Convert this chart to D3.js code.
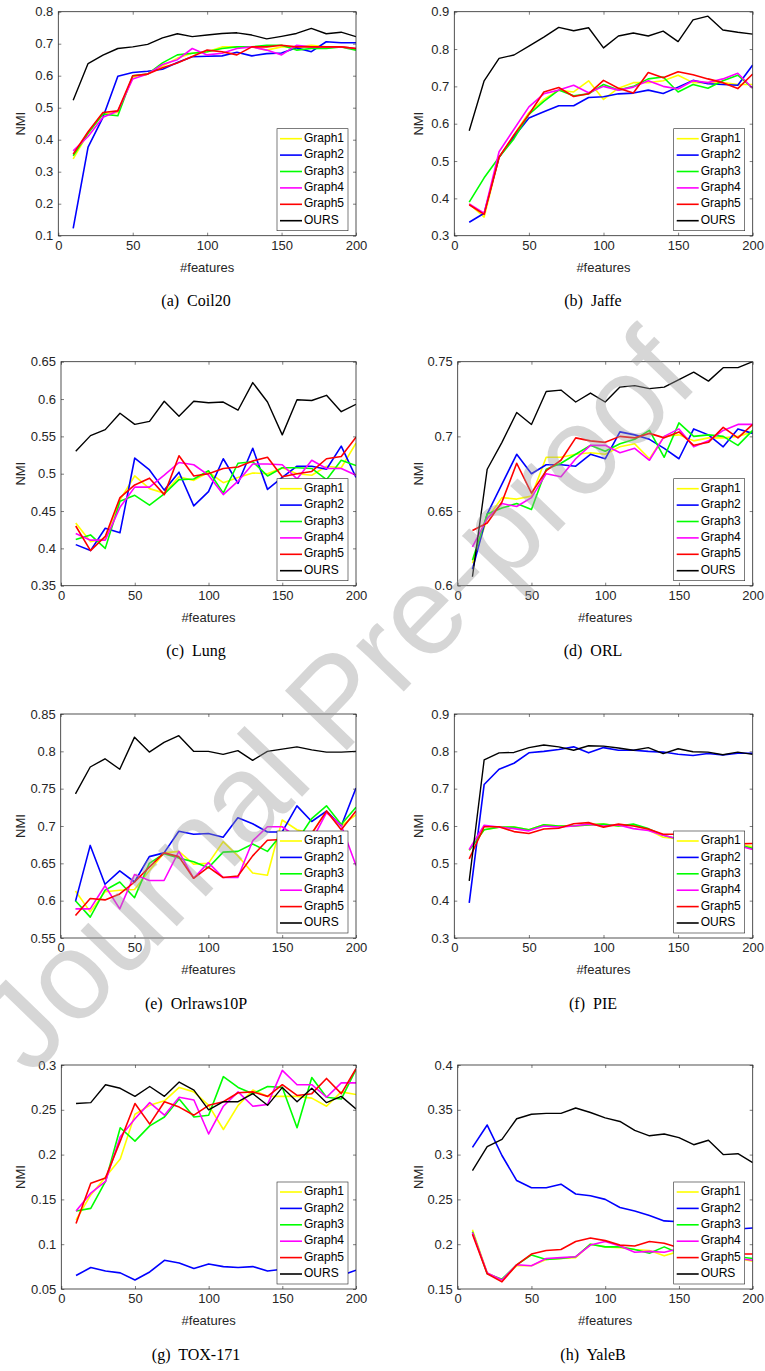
<!DOCTYPE html>
<html>
<head>
<meta charset="utf-8">
<script src="https://cdn.jsdelivr.net/npm/d3@7/dist/d3.min.js"></script>
<style>
    body { margin: 0; background: #fff; }
    svg text { font-family: Arial, "Liberation Sans", Helvetica, sans-serif; }
    .caption { font-family: "Times New Roman", "Liberation Serif", serif !important; }
</style>
</head>
<body>
<svg id="fig" width="765" height="1371"></svg>
<script>
// x positions (#features) shared by every panel
const features = [10, 20, 30, 40, 50, 60, 70, 80, 90, 100, 110, 120, 130, 140, 150, 160, 170, 180, 190, 200];
const seriesNames = ['Graph1', 'Graph2', 'Graph3', 'Graph4', 'Graph5', 'OURS'];
const seriesColors = ['#ffff00', '#0000ff', '#00ff00', '#ff00ff', '#ff0000', '#000000'];
const xTicks = [0, 50, 100, 150, 200];

// NMI values, one row per series (Graph1..Graph5, OURS)
const coil20 = [
    [0.34, 0.42, 0.48, 0.485, 0.595, 0.605, 0.63, 0.655, 0.67, 0.675, 0.69, 0.69, 0.69, 0.68, 0.69, 0.69, 0.695, 0.69, 0.69, 0.685],
    [0.123, 0.377, 0.47, 0.598, 0.61, 0.614, 0.62, 0.641, 0.659, 0.661, 0.662, 0.673, 0.662, 0.669, 0.671, 0.687, 0.675, 0.706, 0.703, 0.703],
    [0.35, 0.42, 0.48, 0.475, 0.6, 0.605, 0.64, 0.665, 0.67, 0.675, 0.685, 0.69, 0.69, 0.695, 0.695, 0.68, 0.685, 0.685, 0.69, 0.68],
    [0.365, 0.41, 0.47, 0.49, 0.59, 0.605, 0.635, 0.65, 0.685, 0.665, 0.67, 0.685, 0.69, 0.68, 0.665, 0.695, 0.69, 0.69, 0.69, 0.685],
    [0.355, 0.425, 0.485, 0.49, 0.6, 0.605, 0.625, 0.64, 0.66, 0.68, 0.675, 0.665, 0.69, 0.69, 0.695, 0.69, 0.69, 0.69, 0.69, 0.685],
    [0.523, 0.638, 0.664, 0.685, 0.69, 0.698, 0.718, 0.731, 0.722, 0.727, 0.732, 0.734, 0.727, 0.715, 0.723, 0.732, 0.748, 0.731, 0.736, 0.722]
];
const jaffe = [
    [0.385, 0.35, 0.51, 0.57, 0.63, 0.665, 0.69, 0.685, 0.715, 0.665, 0.695, 0.71, 0.71, 0.715, 0.73, 0.71, 0.71, 0.71, 0.705, 0.705],
    [0.336, 0.36, 0.51, 0.565, 0.615, 0.632, 0.648, 0.648, 0.67, 0.672, 0.68, 0.682, 0.69, 0.681, 0.698, 0.716, 0.707, 0.705, 0.703, 0.757],
    [0.39, 0.455, 0.51, 0.56, 0.625, 0.66, 0.69, 0.675, 0.68, 0.705, 0.69, 0.7, 0.72, 0.725, 0.685, 0.705, 0.695, 0.715, 0.73, 0.695],
    [0.385, 0.36, 0.525, 0.585, 0.645, 0.68, 0.69, 0.703, 0.683, 0.7, 0.69, 0.698, 0.715, 0.7, 0.693, 0.715, 0.71, 0.72, 0.735, 0.695],
    [0.383, 0.357, 0.51, 0.57, 0.625, 0.685, 0.697, 0.673, 0.68, 0.716, 0.695, 0.682, 0.737, 0.723, 0.739, 0.731, 0.72, 0.71, 0.694, 0.733],
    [0.581, 0.715, 0.775, 0.784, 0.808, 0.832, 0.858, 0.849, 0.857, 0.803, 0.835, 0.843, 0.835, 0.848, 0.82, 0.878, 0.888, 0.851, 0.845, 0.84]
];
const lung = [
    [0.434, 0.409, 0.413, 0.465, 0.497, 0.48, 0.474, 0.496, 0.491, 0.502, 0.488, 0.495, 0.501, 0.5, 0.508, 0.5, 0.498, 0.51, 0.508, 0.541],
    [0.405, 0.397, 0.427, 0.421, 0.521, 0.505, 0.478, 0.502, 0.457, 0.476, 0.52, 0.487, 0.534, 0.479, 0.495, 0.51, 0.51, 0.506, 0.537, 0.495],
    [0.412, 0.418, 0.4, 0.463, 0.471, 0.458, 0.473, 0.492, 0.493, 0.504, 0.474, 0.514, 0.516, 0.497, 0.508, 0.508, 0.507, 0.492, 0.518, 0.511],
    [0.42, 0.411, 0.411, 0.455, 0.482, 0.482, 0.498, 0.515, 0.512, 0.498, 0.472, 0.49, 0.513, 0.513, 0.512, 0.493, 0.518, 0.507, 0.507, 0.498],
    [0.43, 0.397, 0.416, 0.468, 0.485, 0.494, 0.472, 0.524, 0.497, 0.5, 0.507, 0.509, 0.517, 0.522, 0.496, 0.5, 0.503, 0.52, 0.523, 0.549],
    [0.53, 0.551, 0.559, 0.581, 0.566, 0.57, 0.597, 0.577, 0.597, 0.595, 0.596, 0.585, 0.622, 0.596, 0.552, 0.599, 0.598, 0.605, 0.583, 0.593]
];
const orl = [
    [0.615, 0.645, 0.659, 0.658, 0.66, 0.686, 0.686, 0.688, 0.689, 0.688, 0.693, 0.695, 0.685, 0.7, 0.701, 0.697, 0.699, 0.699, 0.7, 0.703],
    [0.611, 0.648, 0.668, 0.688, 0.675, 0.681, 0.681, 0.68, 0.688, 0.685, 0.703, 0.701, 0.698, 0.692, 0.685, 0.705, 0.701, 0.693, 0.705, 0.702],
    [0.617, 0.648, 0.652, 0.655, 0.651, 0.678, 0.682, 0.688, 0.694, 0.69, 0.695, 0.698, 0.704, 0.686, 0.709, 0.7, 0.701, 0.7, 0.694, 0.704],
    [0.626, 0.645, 0.655, 0.653, 0.659, 0.675, 0.673, 0.685, 0.694, 0.694, 0.689, 0.692, 0.684, 0.7, 0.705, 0.693, 0.697, 0.704, 0.708, 0.708],
    [0.637, 0.642, 0.656, 0.682, 0.662, 0.677, 0.684, 0.699, 0.697, 0.696, 0.7, 0.699, 0.702, 0.699, 0.703, 0.694, 0.696, 0.706, 0.699, 0.708],
    [0.606, 0.678, 0.696, 0.716, 0.708, 0.73, 0.731, 0.723, 0.729, 0.723, 0.733, 0.734, 0.732, 0.733, 0.738, 0.743, 0.737, 0.746, 0.746, 0.75]
];
const orlraws10P = [
    [0.613, 0.585, 0.612, 0.614, 0.615, 0.64, 0.664, 0.666, 0.649, 0.65, 0.679, 0.66, 0.637, 0.634, 0.708, 0.695, 0.69, 0.72, 0.7, 0.715],
    [0.599, 0.674, 0.622, 0.64, 0.625, 0.659, 0.664, 0.693, 0.689, 0.69, 0.685, 0.711, 0.703, 0.692, 0.692, 0.727, 0.706, 0.72, 0.7, 0.751],
    [0.6, 0.578, 0.614, 0.625, 0.604, 0.65, 0.663, 0.657, 0.652, 0.644, 0.665, 0.666, 0.676, 0.666, 0.69, 0.68, 0.71, 0.727, 0.702, 0.725],
    [0.589, 0.589, 0.62, 0.589, 0.635, 0.627, 0.627, 0.666, 0.63, 0.651, 0.631, 0.631, 0.68, 0.699, 0.699, 0.685, 0.68, 0.718, 0.701, 0.647],
    [0.58, 0.603, 0.601, 0.609, 0.625, 0.645, 0.664, 0.659, 0.63, 0.645, 0.631, 0.633, 0.66, 0.681, 0.682, 0.682, 0.69, 0.72, 0.695, 0.72],
    [0.743, 0.779, 0.79, 0.776, 0.819, 0.799, 0.812, 0.821, 0.8, 0.8, 0.796, 0.801, 0.788, 0.8, 0.803, 0.806, 0.802, 0.799, 0.799, 0.8]
];
const pie = [
    [0.535, 0.59, 0.597, 0.597, 0.59, 0.603, 0.6, 0.6, 0.603, 0.605, 0.6, 0.603, 0.59, 0.57, 0.565, 0.565, 0.565, 0.555, 0.55, 0.545],
    [0.394, 0.711, 0.752, 0.768, 0.796, 0.8, 0.805, 0.812, 0.796, 0.81, 0.803, 0.803, 0.8, 0.798, 0.792, 0.789, 0.794, 0.79, 0.795, 0.795],
    [0.535, 0.59, 0.597, 0.597, 0.59, 0.603, 0.6, 0.6, 0.603, 0.605, 0.6, 0.605, 0.593, 0.575, 0.565, 0.56, 0.56, 0.555, 0.55, 0.54],
    [0.537, 0.602, 0.597, 0.593, 0.587, 0.6, 0.597, 0.6, 0.605, 0.6, 0.603, 0.593, 0.588, 0.575, 0.565, 0.56, 0.56, 0.552, 0.548, 0.537],
    [0.512, 0.598, 0.598, 0.585, 0.58, 0.592, 0.594, 0.606, 0.609, 0.597, 0.605, 0.6, 0.592, 0.578, 0.578, 0.57, 0.565, 0.553, 0.552, 0.553],
    [0.453, 0.777, 0.796, 0.797, 0.81, 0.817, 0.812, 0.803, 0.815, 0.814, 0.809, 0.803, 0.81, 0.794, 0.807, 0.799, 0.798, 0.791, 0.798, 0.792]
];
const tox171 = [
    [0.127, 0.155, 0.175, 0.195, 0.245, 0.255, 0.26, 0.275, 0.27, 0.255, 0.228, 0.255, 0.272, 0.265, 0.265, 0.265, 0.263, 0.254, 0.27, 0.267],
    [0.065, 0.074, 0.07, 0.068, 0.06, 0.069, 0.082, 0.079, 0.073, 0.078, 0.075, 0.074, 0.075, 0.07, 0.072, 0.073, 0.07, 0.068, 0.065, 0.071],
    [0.137, 0.14, 0.17, 0.23, 0.215, 0.232, 0.242, 0.262, 0.242, 0.244, 0.287, 0.275, 0.268, 0.276, 0.275, 0.23, 0.286, 0.264, 0.262, 0.295],
    [0.137, 0.157, 0.17, 0.22, 0.24, 0.258, 0.244, 0.264, 0.261, 0.223, 0.254, 0.27, 0.254, 0.256, 0.294, 0.278, 0.278, 0.264, 0.28, 0.28],
    [0.123, 0.168, 0.174, 0.215, 0.257, 0.234, 0.259, 0.253, 0.244, 0.255, 0.259, 0.269, 0.27, 0.265, 0.278, 0.266, 0.268, 0.285, 0.268, 0.296],
    [0.257, 0.258, 0.278, 0.274, 0.265, 0.276, 0.265, 0.281, 0.272, 0.25, 0.259, 0.259, 0.268, 0.255, 0.275, 0.259, 0.274, 0.258, 0.265, 0.251]
];
const yaleB = [
    [0.216, 0.168, 0.16, 0.176, 0.176, 0.183, 0.184, 0.185, 0.2, 0.197, 0.196, 0.194, 0.193, 0.187, 0.192, 0.19, 0.188, 0.185, 0.184, 0.181],
    [0.308, 0.333, 0.299, 0.271, 0.263, 0.263, 0.267, 0.256, 0.254, 0.25, 0.241, 0.237, 0.232, 0.226, 0.225, 0.222, 0.22, 0.218, 0.217, 0.218],
    [0.214, 0.167, 0.161, 0.177, 0.188, 0.183, 0.184, 0.186, 0.2, 0.197, 0.197, 0.194, 0.19, 0.197, 0.19, 0.19, 0.187, 0.187, 0.186, 0.184],
    [0.213, 0.168, 0.16, 0.177, 0.176, 0.184, 0.185, 0.186, 0.199, 0.203, 0.198, 0.191, 0.192, 0.191, 0.195, 0.19, 0.188, 0.186, 0.184, 0.182],
    [0.211, 0.167, 0.158, 0.177, 0.189, 0.193, 0.194, 0.203, 0.207, 0.204, 0.199, 0.198, 0.203, 0.201, 0.196, 0.195, 0.193, 0.191, 0.189, 0.189],
    [0.282, 0.309, 0.317, 0.34, 0.345, 0.346, 0.346, 0.352, 0.347, 0.341, 0.337, 0.327, 0.321, 0.323, 0.319, 0.311, 0.316, 0.3, 0.301, 0.291]
];

// y tick values per panel
const yTicksCoil20 = [0.1, 0.2, 0.3, 0.4, 0.5, 0.6, 0.7, 0.8];
const yTicksJaffe = [0.3, 0.4, 0.5, 0.6, 0.7, 0.8, 0.9];
const yTicksLung = [0.35, 0.4, 0.45, 0.5, 0.55, 0.6, 0.65];
const yTicksOrl = [0.6, 0.65, 0.7, 0.75];
const yTicksOrlraws = [0.55, 0.6, 0.65, 0.7, 0.75, 0.8, 0.85];
const yTicksPie = [0.3, 0.4, 0.5, 0.6, 0.7, 0.8, 0.9];
const yTicksTox = [0.05, 0.1, 0.15, 0.2, 0.25, 0.3];
const yTicksYale = [0.15, 0.2, 0.25, 0.3, 0.35, 0.4];

const captions = ['(a)  Coil20', '(b)  Jaffe', '(c)  Lung', '(d)  ORL', '(e)  Orlraws10P', '(f)  PIE', '(g)  TOX-171', '(h)  YaleB'];

// layout (pixels)
const ROW_TOP = [11.7, 361.7, 714, 1065];
const PLOT_H = 224;
const LEFT_COL = { right: 356, caption: 196, ylab: 22 };
const RIGHT_COL = { right: 752.7, caption: 593, ylab: 420 };
const AXIS_COLOR = '#262626';

const panels = [
    { values: coil20, ticks: yTicksCoil20, row: 0, col: LEFT_COL, left: 58.3 },
    { values: jaffe, ticks: yTicksJaffe, row: 0, col: RIGHT_COL, left: 454.3 },
    { values: lung, ticks: yTicksLung, row: 1, col: LEFT_COL, left: 61 },
    { values: orl, ticks: yTicksOrl, row: 1, col: RIGHT_COL, left: 457.7 },
    { values: orlraws10P, ticks: yTicksOrlraws, row: 2, col: LEFT_COL, left: 60.7 },
    { values: pie, ticks: yTicksPie, row: 2, col: RIGHT_COL, left: 454.3 },
    { values: tox171, ticks: yTicksTox, row: 3, col: LEFT_COL, left: 61.3 },
    { values: yaleB, ticks: yTicksYale, row: 3, col: RIGHT_COL, left: 457.7 }
];

const svg = d3.select('#fig');
svg.append('rect').attr('width', 765).attr('height', 1371).attr('fill', '#fff');

panels.forEach((p, i) => drawPanel(p, i));
drawWatermark();

function drawPanel(p, i) {
    const top = ROW_TOP[p.row];
    const bottom = top + PLOT_H;
    const left = p.left;
    const right = p.col.right;
    const g = svg.append('g');

    const x = d3.scaleLinear().domain([0, 200]).range([left, right]);
    const y = d3.scaleLinear().domain(d3.extent(p.ticks)).range([bottom, top]);

    const clipId = 'clip' + i;
    g.append('clipPath').attr('id', clipId)
        .append('rect')
            .attr('x', left).attr('y', top)
            .attr('width', right - left).attr('height', bottom - top);

    const line = d3.line()
        .x((d, j) => x(features[j]))
        .y(d => y(d));

    g.append('g').attr('clip-path', 'url(#' + clipId + ')')
        .selectAll('path')
        .data(p.values)
        .join('path')
            .attr('d', d => line(d))
            .attr('fill', 'none')
            .attr('stroke', (d, k) => seriesColors[k])
            .attr('stroke-width', (d, k) => k === 5 ? 1.4 : 1.6)
            .attr('stroke-linejoin', 'round');

    // axes with inward ticks on all four sides
    const fmt = d => String(d);
    const axes = [
        [d3.axisLeft(y).tickValues(p.ticks).tickFormat(fmt), 'translate(' + left + ',0)', true],
        [d3.axisRight(y).tickValues(p.ticks).tickFormat(''), 'translate(' + right + ',0)', false],
        [d3.axisBottom(x).tickValues(xTicks).tickFormat(fmt), 'translate(0,' + bottom + ')', true],
        [d3.axisTop(x).tickValues(xTicks).tickFormat(''), 'translate(0,' + top + ')', false]
    ];
    axes.forEach(([ax, tr]) => {
        const a = g.append('g')
            .attr('transform', tr)
            .call(ax.tickSizeInner(-3).tickSizeOuter(0).tickPadding(5));
        a.select('.domain').remove();
        a.selectAll('line').attr('stroke', AXIS_COLOR).attr('stroke-width', 0.6);
        a.selectAll('text').attr('fill', AXIS_COLOR).attr('font-size', 13)
            .attr('font-family', 'Arial, "Liberation Sans", Helvetica, sans-serif');
    });

    g.append('rect')
        .attr('x', left).attr('y', top)
        .attr('width', right - left).attr('height', bottom - top)
        .attr('fill', 'none').attr('stroke', AXIS_COLOR).attr('stroke-width', 0.8);

    g.append('text')
        .attr('x', (left + right) / 2).attr('y', bottom + 33)
        .attr('text-anchor', 'middle').attr('dominant-baseline', 'middle')
        .attr('font-size', 13).attr('fill', AXIS_COLOR)
        .text('#features');

    g.append('text')
        .attr('transform', 'translate(' + p.col.ylab + ',' + ((top + bottom) / 2) + ') rotate(-90)')
        .attr('text-anchor', 'middle').attr('dominant-baseline', 'middle')
        .attr('font-size', 13).attr('fill', AXIS_COLOR)
        .text('NMI');

    // legend box, bottom right inside the axes
    const lw = 71, lh = 102;
    const lx = right - 8 - lw, ly = bottom - 5 - lh;
    const legend = g.append('g').attr('transform', 'translate(' + lx + ',' + ly + ')');
    legend.append('rect')
        .attr('width', lw).attr('height', lh)
        .attr('fill', '#fff').attr('stroke', AXIS_COLOR).attr('stroke-width', 0.6);
    const items = legend.selectAll('g.item')
        .data(seriesNames)
        .join('g')
            .attr('class', 'item')
            .attr('transform', (d, k) => 'translate(0,' + (10 + k * 16.4) + ')');
    items.append('line')
        .attr('x1', 3).attr('x2', 25)
        .attr('stroke', (d, k) => seriesColors[k]).attr('stroke-width', 1.6);
    items.append('text')
        .attr('x', 27).attr('dominant-baseline', 'middle')
        .attr('font-size', 12).attr('fill', '#000')
        .text(d => d);

    svg.append('text')
        .attr('class', 'caption')
        .attr('x', p.col.caption).attr('y', bottom + 67)
        .attr('text-anchor', 'middle').attr('dominant-baseline', 'middle')
        .attr('font-size', 16).attr('fill', '#000')
        .attr('xml:space', 'preserve')
        .style('white-space', 'pre')
        .text(captions[i]);
}

function drawWatermark() {
    svg.append('text')
        .attr('transform', 'translate(335,700) rotate(-46)')
        .attr('text-anchor', 'middle').attr('dominant-baseline', 'central')
        .attr('font-size', 125)
        .attr('fill', '#999').attr('fill-opacity', 0.4)
        .text('Journal Pre-proof');
}
</script>
</body>
</html>
